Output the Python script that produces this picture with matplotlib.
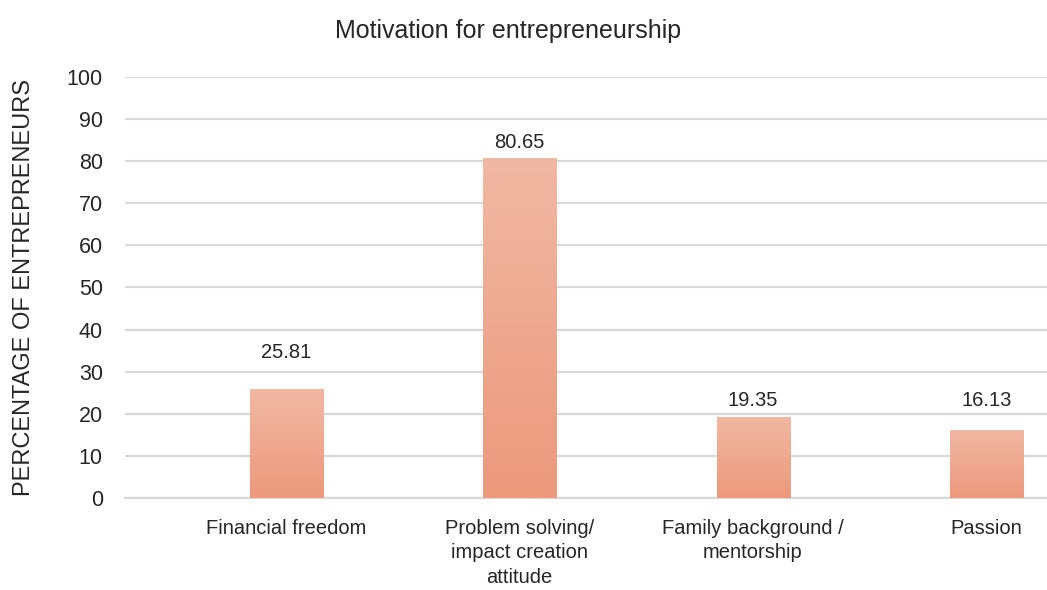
import matplotlib
matplotlib.use("Agg")
import matplotlib.pyplot as plt
import numpy as np
from matplotlib.colors import LinearSegmentedColormap

categories = [
    "Financial freedom",
    "Problem solving/\nimpact creation\nattitude",
    "Family background /\nmentorship",
    "Passion",
]
percentages = [25.81, 80.65, 19.35, 16.13]
y_ticks = list(range(0, 101, 10))

# vertical gap (px) between the bar top and the centre of its value label
label_gaps = [37, 16, 16, 30]

plt.rcParams["font.family"] = ["Liberation Sans", "DejaVu Sans"]
text_color = "#262626"
grid_color = "#D9D9D9"

fig = plt.figure(figsize=(10.47, 5.90), dpi=100)
ax = fig.add_axes([0.1194, 0.156, 0.8806, 0.7135])

x = np.arange(len(categories))
bar_width = 0.313
bars = ax.bar(x, percentages, width=bar_width, color="none", zorder=3)

# light-to-dark vertical fill inside every bar
shade = LinearSegmentedColormap.from_list("shade", ["#EC997C", "#F1B8A3"])
gradient = np.linspace(0, 1, 256).reshape(-1, 1)
for bar in bars:
    x0, y0 = bar.get_x(), bar.get_y()
    w, h = bar.get_width(), bar.get_height()
    img = ax.imshow(gradient, cmap=shade, origin="lower", aspect="auto",
                    extent=(x0, x0 + w, y0, y0 + h), zorder=3)
    img.set_clip_path(bar)

for bar, value, gap in zip(bars, percentages, label_gaps):
    ax.annotate(f"{value:.2f}", (bar.get_x() + bar.get_width() / 2, value),
                xytext=(0, gap * 0.72), textcoords="offset points",
                ha="center", va="center", fontsize=14.5, color=text_color)

ax.set_xlim(-0.692, 3.26)
ax.set_ylim(0, 100)
ax.set_yticks(y_ticks)
ax.set_yticklabels([str(t) for t in y_ticks], fontsize=15.5, color=text_color)
ax.set_xticks(x)
ax.set_xticklabels(categories, fontsize=14.5, color=text_color, linespacing=1.38,
                   va="top", ha="center")
ax.tick_params(axis="both", length=0)
ax.tick_params(axis="y", pad=16)
ax.tick_params(axis="x", pad=15)

ax.grid(axis="y", color=grid_color, linewidth=1.6, zorder=0)
ax.set_axisbelow(True)
for side in ["top", "right", "left"]:
    ax.spines[side].set_visible(False)
ax.spines["bottom"].set_color(grid_color)
ax.spines["bottom"].set_linewidth(1.6)

ax.set_ylabel("PERCENTAGE OF ENTREPRENEURS", fontsize=17, color=text_color)
ax.yaxis.set_label_coords(-0.0975, 0.5)
fig.text(0.485, 0.948, "Motivation for entrepreneurship", ha="center",
         va="center", fontsize=18, color=text_color)

fig.savefig("out.png", dpi=100)
